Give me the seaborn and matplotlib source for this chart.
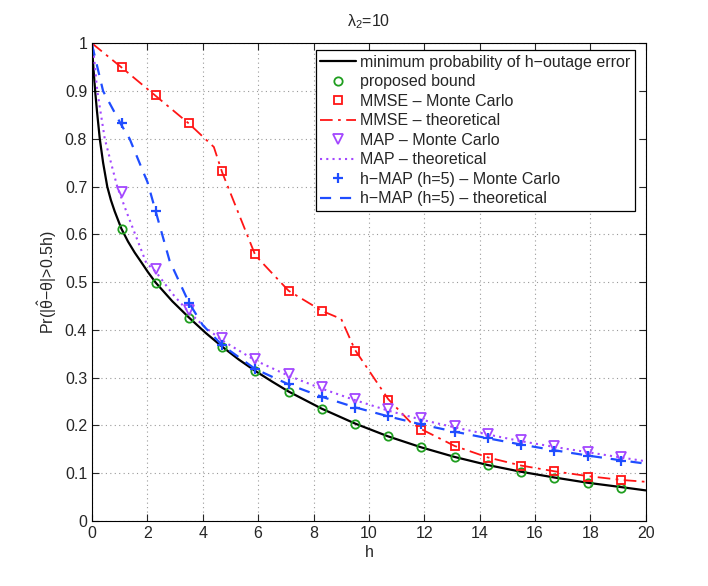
import numpy as np
import pandas as pd
import matplotlib
matplotlib.use("Agg")
import matplotlib.pyplot as plt
import seaborn as sns

# h positions of the Monte Carlo / bound markers
h_mark = [1.1, 2.3, 3.5, 4.7, 5.9, 7.1, 8.3, 9.5, 10.7, 11.9, 13.1, 14.3, 15.5, 16.7, 17.9, 19.1]

bound_vals = [0.612, 0.499, 0.426, 0.365, 0.314, 0.271, 0.235, 0.204, 0.177, 0.154,
              0.134, 0.117, 0.103, 0.090, 0.079, 0.070]
mmse_mc = [0.950, 0.892, 0.834, 0.732, 0.558, 0.482, 0.439, 0.355, 0.253, 0.191,
           0.156, 0.131, 0.115, 0.104, 0.093, 0.086]
map_mc = [0.689, 0.527, 0.441, 0.384, 0.340, 0.308, 0.280, 0.256, 0.234, 0.215,
          0.199, 0.183, 0.170, 0.156, 0.144, 0.133]
hmap_mc = [0.833, 0.648, 0.457, 0.369, 0.319, 0.286, 0.260, 0.237, 0.220, 0.202,
           0.187, 0.173, 0.159, 0.147, 0.136, 0.126]

# theoretical curves
h_min = [0, 0.03, 0.06, 0.12, 0.18, 0.28, 0.4, 0.55, 0.68, 0.82, 1.06, 1.3, 1.54, 1.8,
         2.02, 2.3, 2.9, 3.5, 4.1, 4.7, 5.3, 5.9, 6.5, 7.1, 8.3, 9.5, 10.7, 11.9, 13.1,
         14.3, 15.5, 16.7, 17.9, 19.1, 20]
min_vals = [1.0, 0.965, 0.94, 0.895, 0.857, 0.80, 0.75, 0.70, 0.672, 0.648, 0.612, 0.585,
            0.562, 0.540, 0.521, 0.499, 0.460, 0.426, 0.394, 0.365, 0.338, 0.314, 0.292,
            0.271, 0.235, 0.204, 0.177, 0.154, 0.134, 0.117, 0.103, 0.091, 0.080, 0.071,
            0.064]

h_mmse = [0, 1.1, 2.3, 3.5, 4.4, 4.7, 5.9, 7.1, 8.3, 9.0, 9.5, 10.7, 11.5, 11.9,
          13.1, 14.3, 15.5, 16.7, 17.9, 19.1, 20]
mmse_th = [1.0, 0.948, 0.890, 0.832, 0.783, 0.730, 0.556, 0.482, 0.440, 0.423, 0.358,
           0.255, 0.207, 0.192, 0.157, 0.133, 0.116, 0.104, 0.094, 0.086, 0.082]

h_map = [0, 0.04, 0.19, 0.46, 0.91, 1.24, 1.54, 1.96, 2.3, 2.9, 3.5, 4.1, 4.7, 5.9,
         7.1, 8.3, 9.5, 10.7, 11.9, 13.1, 14.3, 15.5, 16.7, 17.9, 19.1, 20]
map_th = [1.0, 0.99, 0.90, 0.80, 0.70, 0.648, 0.603, 0.540, 0.522, 0.476, 0.437, 0.405,
          0.378, 0.336, 0.304, 0.277, 0.253, 0.231, 0.212, 0.196, 0.181, 0.167, 0.155,
          0.144, 0.133, 0.125]

h_hmap = [0, 0.4, 1.06, 1.36, 1.84, 2.0, 2.3, 2.8, 3.5, 4.0, 4.7, 5.9, 7.1, 8.3, 9.5,
          10.7, 11.9, 13.1, 14.3, 15.5, 16.7, 17.9, 19.1, 20]
hmap_th = [0.997, 0.90, 0.829, 0.80, 0.732, 0.71, 0.648, 0.545, 0.457, 0.41, 0.368,
           0.318, 0.286, 0.260, 0.238, 0.219, 0.202, 0.187, 0.173, 0.160, 0.148, 0.137,
           0.127, 0.120]

c_green = "#1f9e1f"
c_red = "#ff1515"
c_purple = "#a347ff"
c_blue = "#1f4dff"

sns.set_style("ticks")
plt.rcParams["font.family"] = ["Liberation Sans", "DejaVu Sans"]
plt.rcParams["mathtext.fontset"] = "custom"
plt.rcParams["mathtext.rm"] = "Liberation Sans"
plt.rcParams["mathtext.it"] = "Liberation Sans"

fs = 11.5
fig = plt.figure(figsize=(7.08, 5.86), dpi=100)
ax = fig.add_axes([0.130, 0.111, 0.782, 0.815])

sns.lineplot(x=h_min, y=min_vals, sort=False, estimator=None, color="black", lw=1.6,
             ax=ax, label="minimum probability of h\u2212outage error")
sns.lineplot(x=h_mark, y=bound_vals, sort=False, estimator=None, ax=ax, linestyle="none",
             marker="o", ms=6, mfc="none", mec=c_green, mew=1.3, color=c_green,
             label="proposed bound")
sns.lineplot(x=h_mark, y=mmse_mc, sort=False, estimator=None, ax=ax, linestyle="none",
             marker="s", ms=6, mfc="none", mec=c_red, mew=1.3, color=c_red,
             label="MMSE \u2013 Monte Carlo")
sns.lineplot(x=h_mmse, y=mmse_th, sort=False, estimator=None, ax=ax, color=c_red, lw=1.3,
             linestyle=(0, (7, 3, 1.5, 3)), label="MMSE \u2013 theoretical")
sns.lineplot(x=h_mark, y=map_mc, sort=False, estimator=None, ax=ax, linestyle="none",
             marker="v", ms=7, mfc="none", mec=c_purple, mew=1.3, color=c_purple,
             label="MAP \u2013 Monte Carlo")
sns.lineplot(x=h_map, y=map_th, sort=False, estimator=None, ax=ax, color=c_purple, lw=1.5,
             linestyle=(0, (1, 2)), label="MAP \u2013 theoretical")
sns.lineplot(x=h_mark, y=hmap_mc, sort=False, estimator=None, ax=ax, linestyle="none",
             marker="+", ms=6.5, mec=c_blue, mew=1.6, color=c_blue,
             label="h\u2212MAP (h=5) \u2013 Monte Carlo")
sns.lineplot(x=h_hmap, y=hmap_th, sort=False, estimator=None, ax=ax, color=c_blue, lw=1.6,
             linestyle=(0, (5, 4)), label="h\u2212MAP (h=5) \u2013 theoretical")

ax.set_xlim(0, 20)
ax.set_ylim(0, 1)
ax.set_xticks(np.arange(0, 21, 2))
ax.set_yticks(np.arange(0, 1.01, 0.1))
ax.set_yticklabels(["0", "0.1", "0.2", "0.3", "0.4", "0.5", "0.6", "0.7", "0.8", "0.9", "1"])
ax.grid(True, linestyle=(0, (1, 3)), color="#9a9a9a", lw=0.8)
ax.tick_params(direction="in", top=True, right=True, labelsize=fs, length=5, width=0.8)
for s in ax.spines.values():
    s.set_visible(True)
    s.set_color("black")
    s.set_linewidth(0.8)

ax.set_xlabel("h", fontsize=fs, labelpad=3)
ax.set_ylabel(r"Pr(|$\hat{\theta}$$-$$\theta$|>0.5h)", fontsize=fs, labelpad=4)
ax.set_title(r"$\lambda_2$=10", fontsize=fs, pad=12)

leg = ax.legend(loc="upper right", bbox_to_anchor=(0.980, 0.986), fontsize=fs,
                frameon=True, fancybox=False, edgecolor="black", framealpha=1,
                handlelength=2.2, handletextpad=0.25, borderpad=0.3, labelspacing=0.28,
                borderaxespad=0)
leg.get_frame().set_linewidth(0.9)

fig.savefig("out.png", dpi=100)
